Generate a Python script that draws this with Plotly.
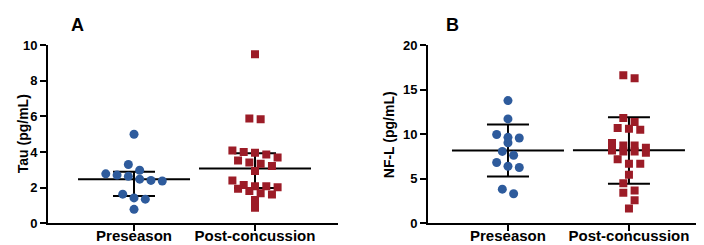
import plotly.graph_objects as go

# ---------------- data ----------------
groups = ["Preseason", "Post-concussion"]

tau_pre = [5.00, 3.30, 2.98, 2.78, 2.71, 2.64, 2.48, 2.41, 2.38, 1.64, 1.43, 1.36, 0.79]
tau_post = [9.49, 5.88, 5.84, 4.09, 4.00, 3.96, 3.87, 3.70, 3.52, 3.42, 3.35, 3.22,
            2.94, 2.41, 2.15, 2.08, 2.08, 2.03, 1.95, 1.82, 1.69, 1.62, 1.31, 0.88]
tau_center = [2.47, 3.08]   # median
tau_low = [1.53, 1.98]      # lower quartile
tau_high = [2.89, 3.93]     # upper quartile

nfl_pre = [13.77, 11.72, 9.97, 9.65, 9.58, 9.05, 8.07, 7.64, 6.83, 6.41, 6.27, 3.84, 3.32]
nfl_post = [16.62, 16.27, 11.83, 11.37, 10.70, 10.60, 10.49, 9.02, 8.73, 8.73, 8.49, 8.17,
            8.07, 8.07, 7.92, 7.18, 6.69, 6.69, 5.46, 4.51, 3.70, 3.45, 2.61, 1.66]
nfl_center = [8.17, 8.20]   # mean
nfl_low = [5.25, 4.44]      # mean - SD
nfl_high = [11.09, 11.90]   # mean + SD

tau_ticks = [0, 2, 4, 6, 8, 10]
nfl_ticks = [0, 5, 10, 15, 20]

# ---------------- layout constants ----------------
W, H = 704, 245
BLUE = "#2E5B9C"
RED = "#9C1C27"
FONT = "Liberation Sans, Arial, sans-serif"

Y_BOTTOM_PX, Y_TOP_PX = 222, 32
panels = [
    dict(xpx=(40, 330), xrange=(-0.711, 1.686), yrange=(0, 10), ticks=tau_ticks,
         data=[tau_pre, tau_post], center=tau_center, low=tau_low, high=tau_high,
         title="Tau (pg/mL)", title_x=15, letter="A", letter_x=69, xa="x", ya="y"),
    dict(xpx=(420, 699), xrange=(-0.661, 1.645), yrange=(0, 20), ticks=nfl_ticks,
         data=[nfl_pre, nfl_post], center=nfl_center, low=nfl_low, high=nfl_high,
         title="NF-L (pg/mL)", title_x=381, letter="B", letter_x=444, xa="x2", ya="y2"),
]


def swarm_offsets(values, px_per_y, px_per_x, spacing_px=11.3, thresh_px=8.0):
    """Group points into horizontal rows and spread each row symmetrically."""
    order = sorted(range(len(values)), key=lambda i: -values[i])
    rows, cur = [], []
    for i in order:
        if cur and (values[cur[0]] - values[i]) * px_per_y > thresh_px:
            rows.append(cur)
            cur = []
        cur.append(i)
    if cur:
        rows.append(cur)
    offs = [0.0] * len(values)
    for row in rows:
        n = len(row)
        for k, i in enumerate(row):
            offs[i] = (k - (n - 1) / 2) * spacing_px / px_per_x
    return offs


fig = go.Figure()
plot_h_px = Y_BOTTOM_PX - Y_TOP_PX
y_dom = [(H - Y_BOTTOM_PX) / H, (H - Y_TOP_PX) / H]

for p in panels:
    px_per_x = (p["xpx"][1] - p["xpx"][0]) / (p["xrange"][1] - p["xrange"][0])
    px_per_y = plot_h_px / (p["yrange"][1] - p["yrange"][0])

    # summary lines (center line + whiskers with caps)
    fig.add_trace(go.Scatter(
        x=list(range(len(groups))), y=p["center"], mode="markers",
        xaxis=p["xa"], yaxis=p["ya"], showlegend=False, hoverinfo="skip",
        marker=dict(symbol="line-ew", size=80, color="black",
                    line=dict(color="black", width=2)),
        error_y=dict(type="data", symmetric=False,
                     array=[h - c for h, c in zip(p["high"], p["center"])],
                     arrayminus=[c - l for c, l in zip(p["center"], p["low"])],
                     width=21, thickness=2, color="black"),
    ))

    for gi, vals in enumerate(p["data"]):
        offs = swarm_offsets(vals, px_per_y, px_per_x)
        fig.add_trace(go.Scatter(
            x=[gi + o for o in offs], y=vals, mode="markers",
            xaxis=p["xa"], yaxis=p["ya"], showlegend=False,
            marker=dict(symbol="circle" if gi == 0 else "square",
                        size=9 if gi == 0 else 8,
                        color=BLUE if gi == 0 else RED, line=dict(width=0)),
        ))

    xkey = "xaxis" if p["xa"] == "x" else "xaxis2"
    ykey = "yaxis" if p["ya"] == "y" else "yaxis2"
    fig.update_layout(**{
        xkey: dict(domain=[p["xpx"][0] / W, p["xpx"][1] / W], range=list(p["xrange"]),
                   anchor=p["ya"], showline=True, linewidth=2, linecolor="black",
                   showgrid=False, zeroline=False, ticks="outside", ticklen=6,
                   tickwidth=2, tickcolor="black", tickmode="array",
                   tickvals=list(range(len(groups))), ticktext=groups,
                   ticklabelstandoff=-8,
                   tickfont=dict(family=FONT, size=15, color="black", weight="bold"),
                   fixedrange=True),
        ykey: dict(domain=y_dom, range=list(p["yrange"]), anchor=p["xa"],
                   showline=True, linewidth=2, linecolor="black", showgrid=False,
                   zeroline=False, ticks="outside", ticklen=6, tickwidth=2,
                   tickcolor="black", tickmode="array", tickvals=p["ticks"],
                   tickfont=dict(family=FONT, size=13, color="black", weight="bold"),
                   fixedrange=True),
    })

    fig.add_annotation(text=p["title"], xref="paper", yref="paper",
                       x=p["title_x"] / W, y=(H - (Y_TOP_PX + Y_BOTTOM_PX) / 2) / H,
                       textangle=-90, showarrow=False, xanchor="center", yanchor="middle",
                       font=dict(family=FONT, size=14, color="black", weight="bold"))
    fig.add_annotation(text=p["letter"], xref="paper", yref="paper",
                       x=p["letter_x"] / W, y=(H - 11) / H, showarrow=False,
                       xanchor="center", yanchor="middle",
                       font=dict(family=FONT, size=18, color="black", weight="bold"))

fig.update_layout(width=W, height=H, margin=dict(l=0, r=0, t=0, b=0),
                  plot_bgcolor="white", paper_bgcolor="white",
                  font=dict(family=FONT, color="black"))

fig.write_html("out.html", config={"displayModeBar": False})
